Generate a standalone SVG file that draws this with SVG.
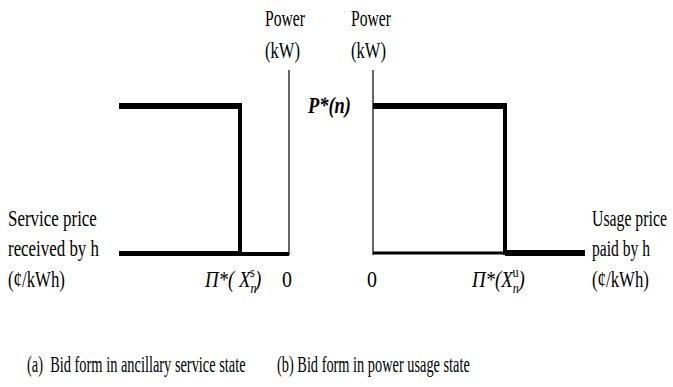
<svg xmlns="http://www.w3.org/2000/svg" width="673" height="387" viewBox="0 0 673 387">
<style>
text{font-family:"Liberation Serif","Times New Roman",serif;font-size:24px;fill:#000}
.it{font-style:italic;font-size:23px}
.axis{stroke:#333;stroke-width:1.5;fill:none}
.thick{stroke:#000;fill:none;stroke-linecap:butt}
</style>
<rect width="673" height="387" fill="#fff"/>
<g id="panel-a">
  <line class="axis" x1="289" y1="70" x2="289" y2="255"/>
  <line class="thick" stroke-width="6" x1="119" y1="106" x2="242" y2="106"/>
  <line class="thick" stroke-width="4" x1="240" y1="103" x2="240" y2="255"/>
  <line class="thick" stroke-width="5" x1="119" y1="253.5" x2="240" y2="253.5"/>
  <line class="thick" stroke-width="4" x1="240" y1="254" x2="289" y2="254"/>
  <text transform="translate(265,26) scale(0.652,1)">Power</text>
  <text transform="translate(265,58) scale(0.69,1)">(kW)</text>
  <text transform="translate(8,226) scale(0.706,1)">Service price</text>
  <text transform="translate(8,256) scale(0.704,1)">received by h</text>
  <text transform="translate(8,287) scale(0.7,1)">(¢/kWh)</text>
  <text class="it" transform="translate(205,287) scale(0.82,1)">Π*( X<tspan font-size="15" dy="6">n</tspan><tspan font-size="15" font-style="normal" dx="-8" dy="-16">s</tspan><tspan dy="10">)</tspan></text>
  <text transform="translate(282,287) scale(0.83,1)">0</text>
</g>
<g id="panel-b">
  <line class="axis" x1="373" y1="70" x2="373" y2="255"/>
  <line class="thick" stroke-width="6" x1="373" y1="106" x2="507" y2="106"/>
  <line class="thick" stroke-width="4" x1="505" y1="103" x2="505" y2="255"/>
  <line class="thick" stroke-width="3" x1="373" y1="253" x2="505" y2="253"/>
  <line class="thick" stroke-width="6" x1="505" y1="253" x2="585" y2="253"/>
  <text transform="translate(351,26) scale(0.652,1)">Power</text>
  <text transform="translate(351,58) scale(0.69,1)">(kW)</text>
  <text class="it" transform="translate(308,113) scale(0.8,1)" font-weight="bold">P*(n)</text>
  <text transform="translate(367,287) scale(0.83,1)">0</text>
  <text class="it" transform="translate(472,287) scale(0.82,1)">Π*(X<tspan font-size="15" dy="6">n</tspan><tspan font-size="15" font-style="normal" dx="-8" dy="-16">u</tspan><tspan dy="10">)</tspan></text>
  <text transform="translate(592,226) scale(0.658,1)">Usage price</text>
  <text transform="translate(592,256) scale(0.65,1)">paid by h</text>
  <text transform="translate(592,287) scale(0.7,1)">(¢/kWh)</text>
</g>
<g id="captions">
  <text transform="translate(27,372) scale(0.6,1)" xml:space="preserve">(a)  Bid form in ancillary service state</text>
  <text transform="translate(277,372) scale(0.598,1)">(b) Bid form in power usage state</text>
</g>
</svg>
